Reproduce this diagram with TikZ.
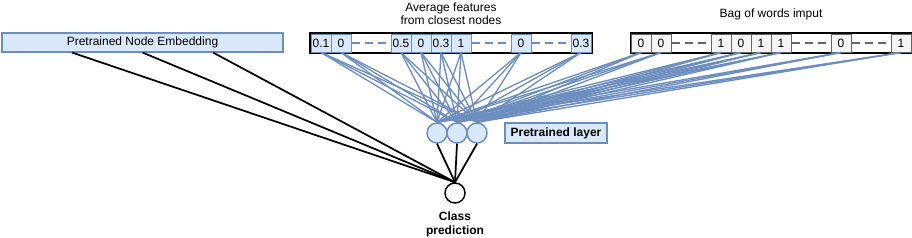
\documentclass[tikz,border=0pt]{standalone}
\usepackage{fontspec}
\setmainfont{Liberation Sans}
\usetikzlibrary{calc}
\definecolor{featFill}{HTML}{DAE8FC}
\definecolor{featLine}{HTML}{6C8EBF}
\definecolor{bowFill}{HTML}{F5F5F5}
\definecolor{bowLine}{HTML}{666666}
\tikzset{
    every node/.append style={align=center,font=\fontsize{9}{10}\selectfont},
    embed/.style={rectangle,draw=featLine,fill=featFill,line width=0.8pt,
        minimum width=210.75pt,minimum height=14.25pt,inner sep=0pt},
    feat/.style={rectangle,draw=featLine,fill=featFill,line width=0.75pt,
        minimum width=15pt,minimum height=13.5pt,inner sep=0pt},
    bow/.style={rectangle,draw=bowLine,fill=bowFill,line width=0.75pt,
        minimum width=15pt,minimum height=13.5pt,inner sep=0pt},
    frame/.style={draw=black,line width=1.5pt},
    gapline/.style={dash pattern=on 6pt off 4pt,line width=1.1pt},
    neuron/.style={circle,draw=featLine,fill=featFill,line width=1.1pt,
        minimum size=15pt,inner sep=0pt},
    outnode/.style={circle,draw=black,fill=white,line width=1.1pt,
        minimum size=15pt,inner sep=0pt},
    tag/.style={rectangle,draw=featLine,fill=featFill,line width=0.8pt,
        minimum width=76.5pt,minimum height=15pt,inner sep=0pt,font=\fontsize{9}{10}\selectfont\bfseries},
    blink/.style={draw=featLine,line width=1pt},
    klink/.style={draw=black,line width=1.3pt}
}
\begin{document}
\begin{tikzpicture}[x=0.75pt,y=-0.75pt]
    \useasboundingbox (0,0) rectangle (912,237);

    % inputs
    \node[embed] (emb) at (142.5,42.5) {Pretrained Node Embedding};
    \node (avgtitle) at (451,14) {Average features\\from closest nodes};
    \node (bowtitle) at (771,14) {Bag of words imput};

    \draw[frame] (310,33) rectangle (592,53);
    \draw[frame] (631,33) rectangle (911,53);

    \foreach \x/\v [count=\i] in {321/0.1,341/0,401/0.5,421/0,441/0.3,461/1,521/0,581/0.3}
        \node[feat] (avg\i) at (\x,43) {\v};
    \foreach \x/\v [count=\i] in {641/0,661/0,721/1,741/0,761/1,781/1,841/0,901/1}
        \node[bow] (bow\i) at (\x,43) {\v};

    \draw[gapline,featLine] (avg2.east) -- (avg3.west);
    \draw[gapline,featLine] (avg6.east) -- (avg7.west);
    \draw[gapline,featLine] (avg7.east) -- (avg8.west);
    \draw[gapline,bowLine] (bow2.east) -- (bow3.west);
    \draw[gapline,bowLine] (bow6.east) -- (bow7.west);
    \draw[gapline,bowLine] (bow7.east) -- (bow8.west);

    % pretrained layer
    \node[neuron] (n1) at (437,133) {};
    \node[neuron] (n2) at (457,133) {};
    \node[neuron] (n3) at (477,133) {};
    \node[tag] (layer) at (556,133) {Pretrained layer};

    % output
    \node[outnode] (out) at (455,193) {};
    \node[font=\fontsize{9}{10.5}\selectfont\bfseries] (cls) at (455,224) {Class\\prediction};

    \foreach \i in {1,...,8}
        \foreach \n in {n1,n2,n3} {
            \draw[blink] (avg\i.south) -- (\n.north);
            \draw[blink] (bow\i.south) -- (\n.north);
        }

    \foreach \f in {0.25,0.5,0.75}
        \draw[klink] ($(emb.south west)!\f!(emb.south east)$) -- (out.north);
    \foreach \n in {n1,n2,n3}
        \draw[klink] (\n.south) -- (out.north);
\end{tikzpicture}
\end{document}
